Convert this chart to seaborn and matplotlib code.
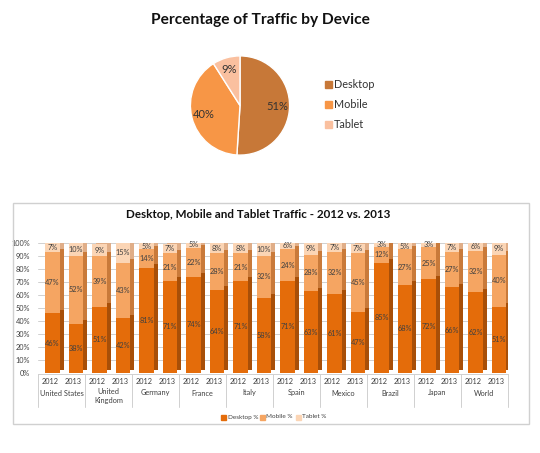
import numpy as np
import pandas as pd
import matplotlib
matplotlib.use("Agg")
import matplotlib.pyplot as plt
from matplotlib.transforms import ScaledTranslation
from matplotlib.patches import Rectangle
import seaborn as sns

# ---------------- data ----------------
pie_labels = ["Desktop", "Mobile", "Tablet"]
pie_values = [51, 40, 9]

countries = ["United States", "United\nKingdom", "Germany", "France", "Italy",
             "Spain", "Mexico", "Brazil", "Japan", "World"]
years = ["2012", "2013"]
desktop = [46, 38, 51, 42, 81, 71, 74, 64, 71, 58, 71, 63, 61, 47, 85, 68, 72, 66, 62, 51]
mobile = [47, 52, 39, 43, 14, 21, 22, 28, 21, 32, 24, 28, 32, 45, 12, 27, 25, 27, 32, 40]
tablet = [7, 10, 9, 15, 5, 7, 5, 8, 8, 10, 6, 9, 7, 7, 3, 5, 3, 7, 6, 9]
yticks = [0, 10, 20, 30, 40, 50, 60, 70, 80, 90, 100]

sns.set_theme(style="white")
plt.rcParams["font.family"] = ["Lato", "DejaVu Sans"]

W, H = 540, 453
fig = plt.figure(figsize=(W / 100, H / 100), dpi=100)

def fx(px):
    return px / W

def fy(py):
    return 1 - py / H

# ---------------- pie ----------------
pie_colors = ["#C77838", "#F79646", "#FAC09F"]
cx, cy, r = 240, 105.5, 62
axp = fig.add_axes([fx(cx - r), fy(cy + r), 2 * r / W, 2 * r / H])
wedges, _t, autotexts = axp.pie(pie_values, colors=pie_colors, startangle=90,
                                 counterclock=False, autopct="%d%%",
                                 pctdistance=0.76,
                                 textprops=dict(fontsize=8, color="#333333"))
axp.set_aspect("equal")
fig.text(fx(260), fy(20), "Percentage of Traffic by Device", ha="center", va="center",
         fontsize=11.2, fontweight="bold", color="#111111")
for i, (lab, col) in enumerate(zip(pie_labels, pie_colors)):
    yy = 84 + i * 20
    fig.patches.append(Rectangle((fx(325), fy(yy + 3.5)), 7 / W, 7 / H, color=col,
                                 transform=fig.transFigure, figure=fig))
    fig.text(fx(334), fy(yy), lab, ha="left", va="center", fontsize=7.8, color="#333333")

# ---------------- bar panel ----------------
fig.patches.append(Rectangle((fx(13), fy(424)), (529 - 13) / W, (424 - 203) / H,
                             fill=False, edgecolor="#D0D0D0", linewidth=1,
                             transform=fig.transFigure, figure=fig))
fig.text(fx(258), fy(214), "Desktop, Mobile and Tablet Traffic - 2012 vs. 2013",
         ha="center", va="center", fontsize=8.4, fontweight="bold", color="#111111")

ax = fig.add_axes([fx(38), fy(373), (508 - 38) / W, (373 - 243) / H])

labels = [f"{c.replace(chr(10), ' ')} {y}" for c in countries for y in years]
df = pd.DataFrame({"bar": labels, "desktop": desktop, "mobile": mobile, "tablet": tablet})
df["dm"] = df["desktop"] + df["mobile"]
df["total"] = df["dm"] + df["tablet"]

front = {"total": "#FBD5B5", "dm": "#F5A562", "desktop": "#E46C0A"}
back = {"total": "#E0AE88", "dm": "#C97A3A", "desktop": "#A84F08"}
bw = 0.62

shift = ScaledTranslation(4 / 100, 3.5 / 100, fig.dpi_scale_trans)
for layer in ["total", "dm", "desktop"]:
    n0 = len(ax.patches)
    sns.barplot(data=df, x="bar", y=layer, order=labels, color=back[layer],
                width=bw, saturation=1, ax=ax, zorder=1)
    for p in ax.patches[n0:]:
        p.set_transform(ax.transData + shift)
        p.set_edgecolor("none")
for layer in ["total", "dm", "desktop"]:
    n0 = len(ax.patches)
    sns.barplot(data=df, x="bar", y=layer, order=labels, color=front[layer],
                width=bw, saturation=1, ax=ax, zorder=2)
    for p in ax.patches[n0:]:
        p.set_edgecolor("none")

for i in range(len(labels)):
    d, m, t = desktop[i], mobile[i], tablet[i]
    for val, base in [(d, 0), (m, d), (t, d + m)]:
        ax.text(i, base + val / 2, f"{val}%", ha="center", va="center",
                fontsize=5.3, color="#404040", zorder=5)

ax.set_ylim(0, 100)
ax.set_xlim(-0.62, 19.38)
ax.set_yticks(yticks)
ax.set_yticklabels([f"{v}%" for v in yticks], fontsize=5.3, color="#404040")
ax.tick_params(axis="y", length=0, pad=5.5)
ax.set_xticks([])
ax.set_xlabel("")
ax.set_ylabel("")
for v in yticks:
    ax.axhline(v, color="#D0D0D0", linewidth=0.7, zorder=0)
for s in ax.spines.values():
    s.set_visible(False)
ax.patch.set_alpha(0)

# category axis (years and countries)
slot = (508 - 38) / 20
for g, c in enumerate(countries):
    x0 = 38 + g * 2 * slot
    for j, y in enumerate(years):
        fig.text(fx(x0 + slot * (j + 0.5)), fy(382), y, ha="center", va="center",
                 fontsize=5.3, color="#404040")
    fig.text(fx(x0 + slot), fy(393 if "\n" not in c else 396), c, ha="center",
             va="center", fontsize=5.3, color="#404040", linespacing=1.3)
for g in range(11):
    xs = 38 + g * 2 * slot
    fig.add_artist(plt.Line2D([fx(xs), fx(xs)], [fy(374), fy(407)], color="#D0D0D0",
                              linewidth=0.7, transform=fig.transFigure))
fig.add_artist(plt.Line2D([fx(38), fx(508)], [fy(374), fy(374)], color="#D0D0D0",
                          linewidth=0.7, transform=fig.transFigure))

# legend
leg_items = [("Desktop %", "#E46C0A"), ("Mobile %", "#F5A562"), ("Tablet %", "#FBD5B5")]
lx = [221, 260, 296]
for (lab, col), x in zip(leg_items, lx):
    fig.patches.append(Rectangle((fx(x), fy(419.5)), 5 / W, 5 / H, color=col,
                                 transform=fig.transFigure, figure=fig))
    fig.text(fx(x + 6.5), fy(417), lab, ha="left", va="center", fontsize=4.6,
             color="#404040")

fig.savefig("out.png", dpi=100)
